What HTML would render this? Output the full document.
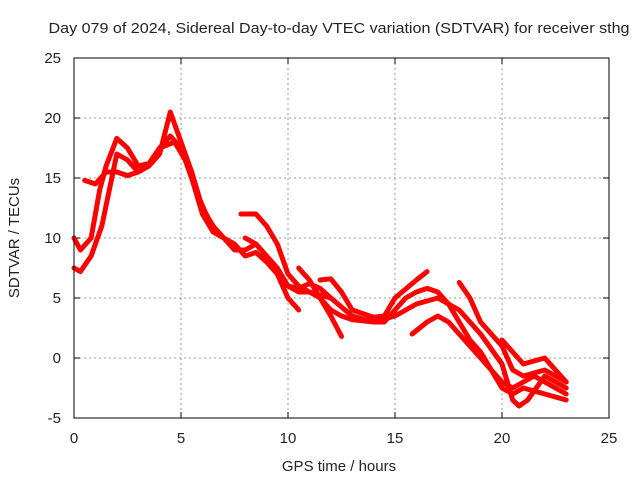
<!DOCTYPE html>
<html><head><meta charset="utf-8"><style>
body{margin:0;background:#fff}
svg{display:block;font-family:"Liberation Sans",sans-serif;font-size:15px;fill:#222}
</style></head><body>
<svg id="chart" width="640" height="480">
<text x="339" y="33" text-anchor="middle" textLength="581" lengthAdjust="spacingAndGlyphs">Day 079 of 2024, Sidereal Day-to-day VTEC variation (SDTVAR) for receiver sthg</text>
<text x="339" y="471" text-anchor="middle">GPS time / hours</text>
<text transform="translate(19,238) rotate(-90)" text-anchor="middle">SDTVAR / TECUs</text>
<g id="grid"></g><g id="ticks"></g><g id="series"></g>
<rect x="74" y="58" width="535" height="360" fill="none" stroke="#000"/>
</svg>
<script>
const xTicks=[0,5,10,15,20,25];
const yTicks=[-5,0,5,10,15,20,25];
const trackA_h=[0,0.3,0.8,1.2,1.5,2,2.5,3,3.5,4,4.5,5,5.5,6,6.5,7,7.5,8,8.5,9,9.5,10,10.5,11,11.5,12,12.5,13,14,14.5,15,15.5,16,16.5,17,17.5,18,18.5,19,19.5,20,20.5,21,21.5,22,22.5,23];
const trackA_v=[10,9,10,14,16,18.3,17.5,16,16.2,17.5,18.5,17.5,15,12,10.5,10,9,9,9.5,8.5,7.5,6,5.5,5.5,5,4,3.5,3.2,3,3,4,5,5.5,5.8,5.5,4.5,3,1.5,0.5,-1,-2,-2.5,-2,-1.5,-2,-2.5,-3];
const trackB_h=[0,0.3,0.8,1.3,2,2.5,3,3.5,4,4.5,5,5.5,6,6.5,7,7.5,8,8.5,9,9.5,10,10.5,11,11.5,12];
const trackB_v=[7.5,7.2,8.5,11,17,16.5,15.5,16,17,20.5,18,15.5,12.5,11,10,9.5,8.5,8.8,8,7,6,5.8,6.2,5.8,5];
const trackC_h=[0.5,1,1.5,2,2.5,3,3.5,4,4.7,5.2,5.8,6.3];
const trackC_v=[14.8,14.5,15.5,15.5,15.2,15.5,16,17.5,18,16.5,13.5,11.5];
const trackD_h=[7.8,8.5,9,9.5,10,10.5,11,12,13,14,15,16,17,18,19,20,20.5,20.8,21.2,22,23];
const trackD_v=[12,12,11,9.5,7,6,5.5,5,3.5,3,3.5,4.5,5,4,2,-0.5,-3.5,-4,-3.5,-1.5,-2.5];
const trackE_h=[8,8.5,9,9.5,10,10.5];
const trackE_v=[10,9.5,8.5,7,5,4];
const trackF_h=[10.5,11,11.5,12,12.5];
const trackF_v=[7.5,6.5,5,3.5,1.8];
const trackG_h=[11.5,12,12.5,13,14,14.5,15,16,16.5];
const trackG_v=[6.5,6.6,5.5,4,3.4,3.5,5,6.5,7.2];
const trackH_h=[15.8,16.5,17,17.5,18,19,19.5,20,20.5,21,22,23];
const trackH_v=[2,3,3.5,3,2,0,-1,-2.5,-3,-2.5,-3,-3.5];
const trackI_h=[18,18.5,19,20,20.5,21,22,23];
const trackI_v=[6.3,5,3,1,-1,-1.5,-1,-2];
const trackJ_h=[20,21,22,22.5,23];
const trackJ_v=[1.5,-0.5,0,-1,-2];
const tracks=[[trackA_h,trackA_v],[trackB_h,trackB_v],[trackC_h,trackC_v],[trackD_h,trackD_v],[trackE_h,trackE_v],[trackF_h,trackF_v],[trackG_h,trackG_v],[trackH_h,trackH_v],[trackI_h,trackI_v],[trackJ_h,trackJ_v]];
const X=h=>74+h*535/25, Y=v=>418-(v+5)*12;
const NS='http://www.w3.org/2000/svg';
const g=document.getElementById('grid'),t=document.getElementById('ticks'),s=document.getElementById('series');
function mk(tag,attrs,parent){const e=document.createElementNS(NS,tag);for(const k in attrs)e.setAttribute(k,attrs[k]);parent.appendChild(e);return e;}
xTicks.forEach(v=>{
 const l=mk('line',{x1:X(v),x2:X(v),y1:58,y2:418,stroke:'#999','stroke-dasharray':'2,3','stroke-width':1},g);
 
 
 const tx=mk('text',{x:X(v),y:443,'text-anchor':'middle'},t);tx.textContent=v;
 
 
 mk('line',{x1:X(v),x2:X(v),y1:418,y2:412,stroke:'#000'},t);
 mk('line',{x1:X(v),x2:X(v),y1:58,y2:64,stroke:'#000'},t);
});
yTicks.forEach(v=>{
 const l=mk('line',{x1:74,x2:609,y1:Y(v),y2:Y(v),stroke:'#999','stroke-dasharray':'2,3','stroke-width':1},g);
 
 
 const tx=mk('text',{x:61,y:Y(v)+5,'text-anchor':'end'},t);tx.textContent=v;
 
 
 mk('line',{x1:74,x2:80,y1:Y(v),y2:Y(v),stroke:'#000'},t);
 mk('line',{x1:609,x2:603,y1:Y(v),y2:Y(v),stroke:'#000'},t);
});
tracks.forEach((tr,i)=>{
 const pts=tr[0].map((h,j)=>X(h)+','+Y(tr[1][j])).join(' ');
 const p=mk('polyline',{points:pts,fill:'none',stroke:'#ff0000','stroke-width':5,'stroke-linejoin':'round','stroke-linecap':'round'},s);
 
 
});
</script>
</body></html>
